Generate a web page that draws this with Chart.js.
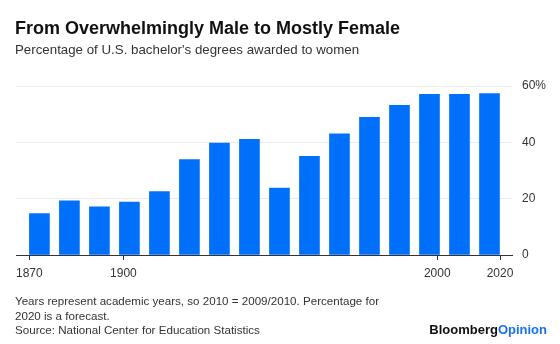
<!DOCTYPE html>
<html><head><meta charset="utf-8">
<script src="https://cdn.jsdelivr.net/npm/chart.js@4/dist/chart.umd.min.js"></script>
<style>
html,body{margin:0;padding:0;background:#fff;}
#wrap{position:relative;width:560px;height:344px;overflow:hidden;font-family:"Liberation Sans",Arial,sans-serif;}
#c{position:absolute;left:0;top:0;}
.t{position:absolute;left:15px;white-space:nowrap;}
</style></head><body>
<div id="wrap">
<canvas id="c" width="560" height="344"></canvas>
<div class="t" style="top:19px;font-size:18px;line-height:18px;font-weight:bold;color:#111">From Overwhelmingly Male to Mostly Female</div>
<div class="t" style="top:42.5px;font-size:13.3px;line-height:13.5px;color:#333">Percentage of U.S. bachelor's degrees awarded to women</div>
<div class="t" style="top:294px;font-size:11.6px;line-height:14.5px;color:#333">Years represent academic years, so 2010 = 2009/2010. Percentage for<br>2020 is a forecast.<br>Source: National Center for Education Statistics</div>
<div class="t" style="left:auto;right:13px;top:322.5px;font-size:13px;line-height:14.5px;font-weight:bold;color:#111">Bloomberg<span style="color:#1a70f0">Opinion</span></div>
</div>
<script>
const years = [1870,1880,1890,1900,1910,1920,1930,1940,1950,1960,1970,1980,1990,2000,2010,2020];
const sharePct = [14.7,19.2,17.1,18.8,22.5,33.9,39.7,41.1,23.8,35.0,43.0,48.9,53.1,57.0,57.0,57.3];
const yTicks = [0,20,40,60];
const xTickYears = [1870,1900,2000,2020];

const points = years.map((yr,i)=>({x:i, y:sharePct[i]}));

new Chart(document.getElementById('c'), {
  type:'bar',
  data:{ datasets:[{ data:points, xAxisID:'xBar', yAxisID:'y', backgroundColor:'#0070fa', barThickness:20, borderWidth:0 }] },
  options:{
    responsive:false, animation:false, devicePixelRatio:1,
    layout:{ padding:{ top:86, left:16, right:0, bottom:0 } },
    plugins:{ legend:{display:false}, tooltip:{enabled:false} },
    scales:{
      xBar:{ type:'linear', min:-0.78, max:15.75, offset:false, grid:{offset:false}, display:false },
      xYear:{ type:'linear', position:'bottom', min:1865.76, max:2023.82, offset:false,
        afterBuildTicks:s=>{ s.ticks = xTickYears.map(v=>({value:v})); },
        ticks:{ autoSkip:false, maxRotation:0, padding:6, color:'#333', font:{size:12, family:'"Liberation Sans", Arial, sans-serif'}, callback:v=>String(v) },
        grid:{ offset:false, drawOnChartArea:false, drawTicks:true, tickLength:5, tickWidth:1, tickColor:'#333', color:'#333' },
        border:{ display:true, color:'#333', width:1 },
        afterFit:s=>{ s.height = 89; } },
      y:{ position:'right', min:0, max:60,
        afterBuildTicks:s=>{ s.ticks = yTicks.map(v=>({value:v})); },
        ticks:{ padding:10, color:'#333', font:{size:12, family:'"Liberation Sans", Arial, sans-serif'}, callback:v=> v===60 ? v+'%' : String(v) },
        grid:{ color:'#ebebeb', drawTicks:false },
        border:{ display:false },
        afterFit:s=>{ s.width = 48; } }
    }
  }
});
</script>
</body></html>
